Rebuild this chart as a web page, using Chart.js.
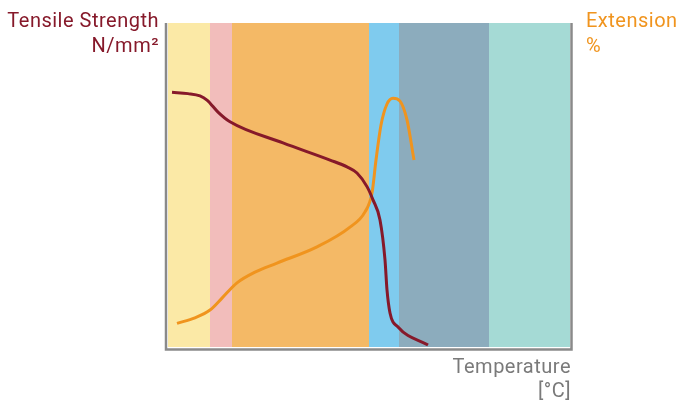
<!DOCTYPE html>
<html>
<head>
<meta charset="utf-8">
<script src="https://cdn.jsdelivr.net/npm/chart.js@4/dist/chart.umd.min.js"></script>
<style>
  html, body { margin: 0; padding: 0; background: #fff; }
  #wrap { width: 680px; height: 401px; }
</style>
</head>
<body>
<div id="wrap"><canvas id="chart"></canvas></div>
<script>
// temperature zones (x in chart units), left to right
const bandEdges = [0, 42, 64, 201, 231, 321, 402];
const bandColors = ['#FBE9A6', '#F2BDBB', '#F4B966', '#7FCBEE', '#8CACBD', '#A5DAD5'];

// tensile strength curve
const strengthX = [4, 20, 32, 39, 50, 62, 115, 162, 179, 189, 199, 205, 212, 217, 219, 222, 230, 260];
const strengthY = [78.6, 78.2, 77.5, 76.2, 72.5, 69.5, 63.0, 57.7, 55.6, 53.7, 49.5, 45.4, 39.2, 26.9, 17.6, 10.5, 6.2, 0.6];

// extension curve
const extensionX = [9, 27, 42, 54, 69, 87, 109, 149, 182, 197, 204, 208, 213, 219, 225, 232, 239, 246];
const extensionY = [7.3, 9.0, 11.4, 15.1, 19.8, 23.1, 25.9, 30.9, 37.0, 41.7, 47.5, 57.7, 68.5, 75.0, 76.8, 75.9, 70.1, 57.7];

const RED = '#86192A';
const ORANGE = '#F0941E';
const GREY = '#7a7a7a';

const toPoints = (xs, ys) => xs.map((x, i) => ({ x: x, y: ys[i] }));

const bandsPlugin = {
    id: 'bands',
    beforeDatasetsDraw(chart) {
        const { ctx, chartArea, scales } = chart;
        ctx.save();
        for (let i = 0; i < bandColors.length; i++) {
            const x0 = scales.x.getPixelForValue(bandEdges[i]);
            const x1 = scales.x.getPixelForValue(bandEdges[i + 1]);
            ctx.fillStyle = bandColors[i];
            ctx.fillRect(x0, chartArea.top, x1 - x0, chartArea.bottom - chartArea.top);
        }
        // frame: left, bottom, right
        ctx.strokeStyle = '#8a8a8a';
        ctx.lineWidth = 2.5;
        ctx.beginPath();
        ctx.moveTo(chartArea.left - 2, chartArea.top);
        ctx.lineTo(chartArea.left - 2, chartArea.bottom + 2.5);
        ctx.lineTo(chartArea.right + 1.5, chartArea.bottom + 2.5);
        ctx.lineTo(chartArea.right + 1.5, chartArea.top);
        ctx.stroke();
        ctx.restore();
    }
};

const labelsPlugin = {
    id: 'labels',
    afterDraw(chart) {
        const { ctx, chartArea } = chart;
        ctx.save();
        ctx.font = '20px Roboto, sans-serif';
        ctx.letterSpacing = '0.5px';
        ctx.textBaseline = 'alphabetic';

        ctx.fillStyle = RED;
        ctx.textAlign = 'right';
        ctx.fillText('Tensile Strength', 159, 27);
        ctx.fillText('N/mm²', 159, 52);

        ctx.fillStyle = ORANGE;
        ctx.textAlign = 'left';
        ctx.fillText('Extension', 586, 27);
        ctx.fillText('%', 586, 52);

        ctx.fillStyle = GREY;
        ctx.textAlign = 'right';
        ctx.fillText('Temperature', chartArea.right + 1, 373);
        ctx.fillText('[°C]', chartArea.right + 1, 397);
        ctx.restore();
    }
};

new Chart(document.getElementById('chart'), {
    type: 'line',
    data: {
        datasets: [
            {
                label: 'Tensile Strength',
                data: toPoints(strengthX, strengthY),
                borderColor: RED,
                borderWidth: 3,
                pointRadius: 0,
                cubicInterpolationMode: 'monotone',
                fill: false
            },
            {
                label: 'Extension',
                data: toPoints(extensionX, extensionY),
                borderColor: ORANGE,
                borderWidth: 3,
                pointRadius: 0,
                cubicInterpolationMode: 'monotone',
                fill: false
            }
        ]
    },
    options: {
        responsive: true,
        maintainAspectRatio: false,
        animation: false,
        layout: { padding: { left: 168, right: 110, top: 23, bottom: 54 } },
        scales: {
            x: { type: 'linear', min: 0, max: 402, display: false },
            y: { min: 0, max: 100, display: false }
        },
        plugins: {
            legend: { display: false },
            tooltip: { enabled: false }
        }
    },
    plugins: [bandsPlugin, labelsPlugin]
});
</script>
</body>
</html>
